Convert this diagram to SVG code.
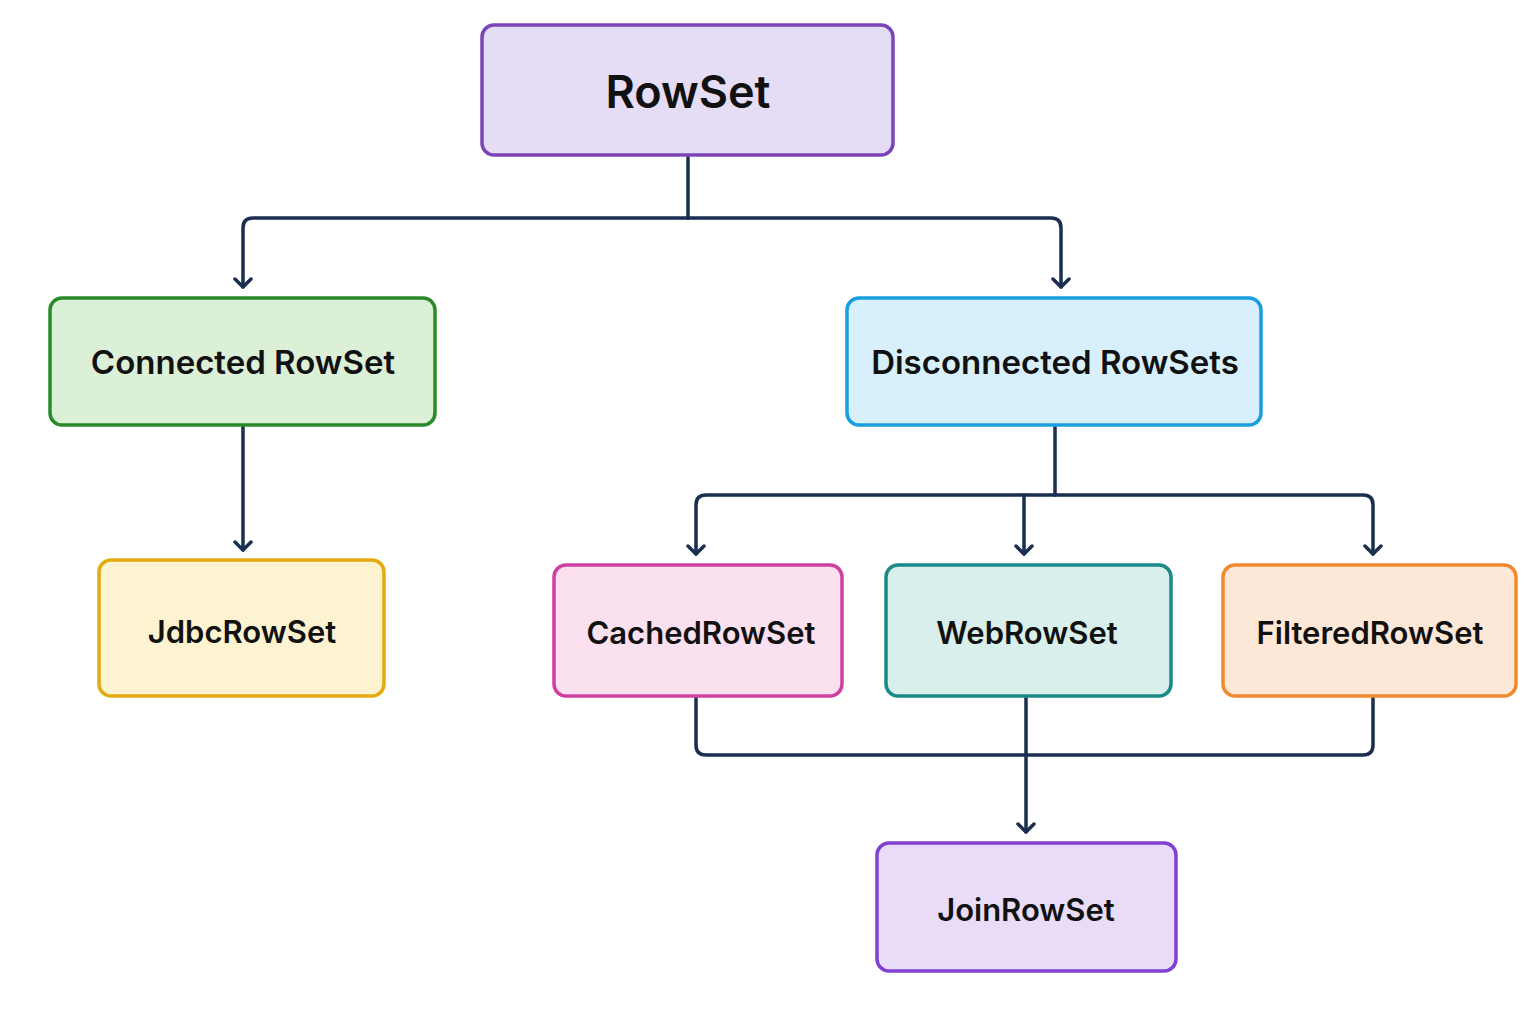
<svg xmlns="http://www.w3.org/2000/svg" width="1536" height="1024" viewBox="0 0 1536 1024">
<defs>
<marker id="ah" viewBox="0 0 20 20" refX="17" refY="10" markerWidth="20" markerHeight="20" markerUnits="userSpaceOnUse" orient="auto">
<polyline points="9,2 17,10 9,18" fill="none" stroke="#1a2e50" stroke-width="3.5" stroke-linecap="round" stroke-linejoin="round"/>
</marker>
<style>
.n{stroke-width:3.5}
.t{font-family:Inter,"Noto Sans","DejaVu Sans",sans-serif;font-weight:600;fill:#111;text-anchor:middle;dominant-baseline:central}
.c{fill:none;stroke:#1a2e50;stroke-width:3.5;stroke-linecap:round;stroke-linejoin:round}
</style>
</defs>
<rect width="1536" height="1024" fill="#fff"/>
<g id="connectors">
<path class="c" d="M688,157 V218"/>
<path class="c" d="M688,218 H253 Q243,218 243,228 V287" marker-end="url(#ah)"/>
<path class="c" d="M688,218 H1051 Q1061,218 1061,228 V287" marker-end="url(#ah)"/>
<path class="c" d="M243,427 V550" marker-end="url(#ah)"/>
<path class="c" d="M1055,427 V495"/>
<path class="c" d="M1055,495 H706 Q696,495 696,505 V554" marker-end="url(#ah)"/>
<path class="c" d="M1024,495 V554" marker-end="url(#ah)"/>
<path class="c" d="M1055,495 H1363 Q1373,495 1373,505 V554" marker-end="url(#ah)"/>
<path class="c" d="M696,698 V745 Q696,755 706,755 H1363 Q1373,755 1373,745 V698"/>
<path class="c" d="M1026,698 V832" marker-end="url(#ah)"/>
</g>
<g id="rowset"><rect class="n" x="482" y="25" width="411" height="130" rx="12" fill="#e5dcf5" stroke="#7b45b8"/><text class="t" x="688" y="91" font-size="45">RowSet</text></g>
<g id="connected"><rect class="n" x="50" y="298" width="385" height="127" rx="12" fill="#dcf0d8" stroke="#2a8a2a"/><text class="t" x="243" y="362" font-size="33">Connected RowSet</text></g>
<g id="disconnected"><rect class="n" x="847" y="298" width="414" height="127" rx="12" fill="#d8f0fb" stroke="#1a9ee0"/><text class="t" x="1055" y="362" font-size="33">Disconnected RowSets</text></g>
<g id="jdbc"><rect class="n" x="99" y="560" width="285" height="136" rx="12" fill="#fdf3d0" stroke="#e0ac10"/><text class="t" x="242" y="631" font-size="31">JdbcRowSet</text></g>
<g id="cached"><rect class="n" x="554" y="565" width="288" height="131" rx="12" fill="#fbe0f0" stroke="#d040a0"/><text class="t" x="701" y="632" font-size="31">CachedRowSet</text></g>
<g id="web"><rect class="n" x="886" y="565" width="285" height="131" rx="12" fill="#d8efec" stroke="#1a8a88"/><text class="t" x="1027" y="632" font-size="31">WebRowSet</text></g>
<g id="filtered"><rect class="n" x="1223" y="565" width="293" height="131" rx="12" fill="#fde8d8" stroke="#f08a30"/><text class="t" x="1370" y="632" font-size="31">FilteredRowSet</text></g>
<g id="join"><rect class="n" x="877" y="843" width="299" height="128" rx="12" fill="#e8dcf8" stroke="#8040d0"/><text class="t" x="1026" y="909" font-size="31">JoinRowSet</text></g>
</svg>
